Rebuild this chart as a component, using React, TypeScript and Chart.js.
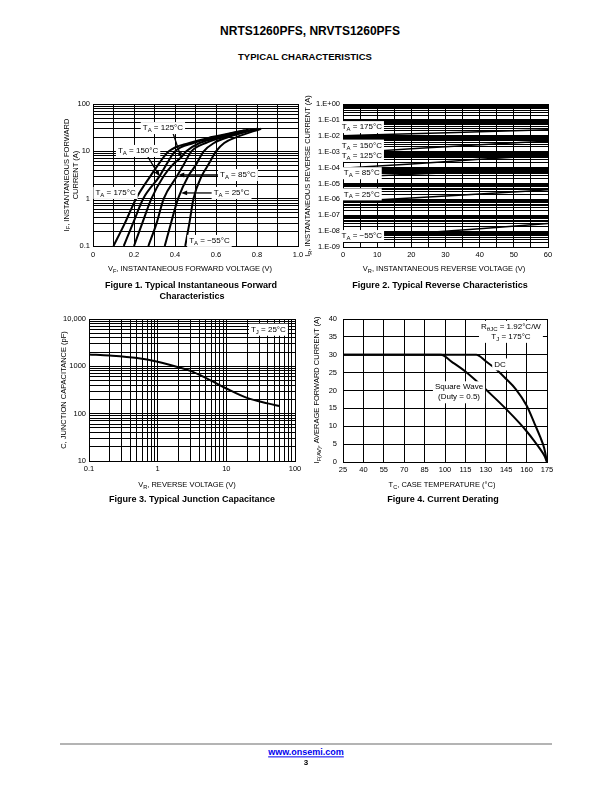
import React, { useEffect, useRef } from "react";
import { Chart, registerables } from "chart.js";

Chart.register(...registerables);

const FONT = '"Liberation Sans", Arial, Helvetica, sans-serif';

// ---------------- Figure 1 : forward characteristics ----------------
const fig1VoltTicks = [0, 0.1, 0.2, 0.3, 0.4, 0.5, 0.6, 0.7, 0.8, 0.9, 1.0];
const fig1VoltLabels = ["0", "", "0.2", "", "0.4", "", "0.6", "", "0.8", "", "1.0"];
const fig1CurrentDecades = [0.1, 1, 10, 100];
const fig1CurrentLabels = ["0.1", "1", "10", "100"];

const fig1V_175 = [0.10, 0.155, 0.21, 0.28, 0.315, 0.37, 0.47, 0.58, 0.74];
const fig1I_175 = [0.1, 0.3, 1, 3, 5, 10, 15, 20, 28];
const fig1V_150 = [0.15, 0.195, 0.245, 0.325, 0.355, 0.40, 0.49, 0.60, 0.76];
const fig1I_150 = [0.1, 0.3, 1, 3, 5, 10, 15, 20, 29];
const fig1V_125 = [0.20, 0.24, 0.285, 0.345, 0.385, 0.43, 0.455, 0.52, 0.62, 0.78];
const fig1I_125 = [0.1, 0.3, 1, 3, 5, 7.5, 10, 15, 20, 29];
const fig1V_85 = [0.27, 0.31, 0.345, 0.41, 0.44, 0.48, 0.55, 0.64, 0.79];
const fig1I_85 = [0.1, 0.3, 1, 3, 5, 10, 15, 20, 29];
const fig1V_25 = [0.35, 0.38, 0.415, 0.465, 0.50, 0.54, 0.59, 0.66, 0.80];
const fig1I_25 = [0.1, 0.3, 1, 3, 5, 10, 15, 20, 30];
const fig1V_m55 = [0.45, 0.47, 0.49, 0.53, 0.56, 0.60, 0.64, 0.70, 0.82];
const fig1I_m55 = [0.1, 0.3, 1, 3, 5, 10, 15, 20, 30];

// ---------------- Figure 2 : reverse characteristics ----------------
const fig2VoltTicks = [0, 5, 10, 15, 20, 25, 30, 35, 40, 45, 50, 55, 60];
const fig2VoltLabels = ["0", "", "10", "", "20", "", "30", "", "40", "", "50", "", "60"];
const fig2CurrentDecades = [1e-9, 1e-8, 1e-7, 1e-6, 1e-5, 1e-4, 1e-3, 1e-2, 1e-1, 1];
const fig2CurrentLabels = ["1.E-09", "1.E-08", "1.E-07", "1.E-06", "1.E-05", "1.E-04", "1.E-03", "1.E-02", "1.E-01", "1.E+00"];
const fig2V = [0, 20, 40, 60];
const fig2I_175 = [1.0e-2, 1.35e-2, 1.8e-2, 2.4e-2];
const fig2I_150 = [8e-4, 1.5e-3, 2.7e-3, 4.6e-3];
const fig2I_125 = [9e-5, 1.7e-4, 3.3e-4, 6.2e-4];
const fig2I_85 = [2.5e-5, 3.8e-5, 5.5e-5, 8e-5];
const fig2I_25 = [7e-7, 1.2e-6, 2.2e-6, 4e-6];
const fig2I_m55 = [3.5e-9, 7e-9, 1.4e-8, 3e-8];

// ---------------- Figure 3 : junction capacitance ----------------
const fig3VoltDecades = [0.1, 1, 10, 100];
const fig3VoltLabels = ["0.1", "1", "10", "100"];
const fig3CapDecades = [10, 100, 1000, 10000];
const fig3CapLabels = ["10", "100", "1000", "10,000"];
const fig3V = [0.1, 0.2, 0.5, 1, 2, 3, 5, 10, 20, 40, 60];
const fig3C = [1780, 1690, 1500, 1250, 960, 800, 570, 340, 215, 165, 145];

// ---------------- Figure 4 : current derating ----------------
const fig4TempTicks = [25, 40, 55, 70, 85, 100, 115, 130, 145, 160, 175];
const fig4TempLabels = ["25", "40", "55", "70", "85", "100", "115", "130", "145", "160", "175"];
const fig4CurrTicks = [0, 5, 10, 15, 20, 25, 30, 35, 40];
const fig4CurrLabels = ["0", "5", "10", "15", "20", "25", "30", "35", "40"];
const fig4T_DC = [25, 123, 130, 138, 145, 152, 160, 166, 170, 173, 175];
const fig4I_DC = [30, 30, 28.2, 25.8, 23.2, 20.4, 15.8, 10.6, 7, 3.8, 0];
const fig4T_SQ = [25, 97, 105, 115, 125, 135, 145, 155, 160, 165, 170, 173, 175];
const fig4I_SQ = [30, 30, 28, 25.3, 22, 18.5, 14.8, 10.8, 8.6, 6.2, 3.6, 1.8, 0];

// ---------------- layout helpers ----------------
const AX_W = 40;
const AX_H = 20;
const PAD_T = 8;
const PAD_R = 12;

type Seg = { t: string; sub?: boolean };
type Note = { x: number; y: number; lines: Seg[][]; arrow?: [number, number, number, number] };

function logTicks(decades: number[], decadeLabels: string[]) {
  const ticks: number[] = [];
  const labels: string[] = [];
  for (let d = 0; d < decades.length; d++) {
    const base = decades[d];
    ticks.push(base);
    labels.push(decadeLabels[d]);
    if (d < decades.length - 1) {
      for (let m = 2; m <= 9; m++) {
        ticks.push(Number((base * m).toPrecision(6)));
        labels.push("");
      }
    }
  }
  return { ticks, labels };
}

function makeAxis(
  pos: "x" | "y",
  type: string,
  min: number,
  max: number,
  ticks: number[],
  labels: string[],
  padding: number
) {
  return {
    type,
    min,
    max,
    position: pos === "x" ? "bottom" : "left",
    afterBuildTicks: (s: any) => {
      s.ticks = ticks.map((v) => ({ value: v }));
    },
    afterFit: (s: any) => {
      if (pos === "x") s.height = AX_H;
      else s.width = AX_W;
      s.paddingLeft = 0;
      s.paddingRight = 0;
      s.paddingTop = 0;
      s.paddingBottom = 0;
    },
    ticks: {
      autoSkip: false,
      maxRotation: 0,
      minRotation: 0,
      padding,
      color: "#000",
      font: { family: FONT, size: 7.5 },
      callback: (_v: any, i: number) => labels[i] ?? "",
    },
    grid: { color: "#000", lineWidth: 1, drawTicks: false },
    border: { display: true, color: "#000", width: 1 },
  };
}

function segWidth(ctx: CanvasRenderingContext2D, segs: Seg[], size: number) {
  let w = 0;
  for (const s of segs) {
    ctx.font = `${s.sub ? size * 0.75 : size}px ${FONT}`;
    w += ctx.measureText(s.t).width;
  }
  return w;
}

function drawSegs(ctx: CanvasRenderingContext2D, segs: Seg[], x: number, y: number, size: number) {
  let cx = x;
  ctx.textAlign = "left";
  ctx.textBaseline = "middle";
  for (const s of segs) {
    ctx.font = `${s.sub ? size * 0.75 : size}px ${FONT}`;
    ctx.fillText(s.t, cx, s.sub ? y + size * 0.3 : y);
    cx += ctx.measureText(s.t).width;
  }
}

function notesPlugin(notes: Note[]) {
  return {
    id: "notes",
    afterDatasetsDraw(chart: any) {
      const ctx: CanvasRenderingContext2D = chart.ctx;
      const xs = chart.scales.x;
      const ys = chart.scales.y;
      const size = 8;
      const lh = 10;
      ctx.save();
      for (const n of notes) {
        if (n.arrow) {
          const [fx, fy, tx, ty] = n.arrow;
          const x1 = xs.getPixelForValue(fx);
          const y1 = ys.getPixelForValue(fy);
          const x2 = xs.getPixelForValue(tx);
          const y2 = ys.getPixelForValue(ty);
          const ang = Math.atan2(y2 - y1, x2 - x1);
          const L = 6;
          const W = 2.4;
          ctx.strokeStyle = "#000";
          ctx.lineWidth = 1.3;
          ctx.beginPath();
          ctx.moveTo(x1, y1);
          ctx.lineTo(x2 - Math.cos(ang) * L * 0.8, y2 - Math.sin(ang) * L * 0.8);
          ctx.stroke();
          ctx.fillStyle = "#000";
          ctx.beginPath();
          ctx.moveTo(x2, y2);
          ctx.lineTo(x2 - Math.cos(ang) * L - Math.sin(ang) * W, y2 - Math.sin(ang) * L + Math.cos(ang) * W);
          ctx.lineTo(x2 - Math.cos(ang) * L + Math.sin(ang) * W, y2 - Math.sin(ang) * L - Math.cos(ang) * W);
          ctx.closePath();
          ctx.fill();
        }
      }
      for (const n of notes) {
        const cx = xs.getPixelForValue(n.x);
        const cy = ys.getPixelForValue(n.y);
        const widths = n.lines.map((l) => segWidth(ctx, l, size));
        const w = Math.max(...widths);
        const h = n.lines.length * lh;
        ctx.fillStyle = "#fff";
        ctx.fillRect(cx - w / 2 - 2, cy - h / 2 - 1, w + 4, h + 2);
        ctx.fillStyle = "#000";
        n.lines.forEach((l, i) => drawSegs(ctx, l, cx - widths[i] / 2, cy - h / 2 + lh * (i + 0.5), size));
      }
      ctx.restore();
    },
  };
}

function series(xs: number[], ys: number[], width: number) {
  return {
    data: xs.map((x, i) => ({ x, y: ys[i] })),
    borderColor: "#000",
    borderWidth: width,
    pointRadius: 0,
    fill: false,
    cubicInterpolationMode: "monotone",
  };
}

function buildConfig(xAxis: any, yAxis: any, datasets: any[], notes: Note[]) {
  return {
    type: "line",
    data: { datasets },
    options: {
      responsive: false,
      animation: false,
      devicePixelRatio: 1,
      events: [],
      layout: { padding: { left: 0, top: PAD_T, right: PAD_R, bottom: 0 } },
      plugins: { legend: { display: false }, tooltip: { enabled: false } },
      elements: { point: { radius: 0 } },
      scales: { x: xAxis, y: yAxis },
    },
    plugins: [notesPlugin(notes)],
  };
}

const TA = (v: string): Seg[] => [{ t: "T" }, { t: "A", sub: true }, { t: ` = ${v}°C` }];

// ---------------- chart configs ----------------
function fig1Config() {
  const y = logTicks(fig1CurrentDecades, fig1CurrentLabels);
  const notes: Note[] = [
    { x: 0.11, y: 1.32, lines: [TA("175")] },
    { x: 0.22, y: 10.2, lines: [TA("150")], arrow: [0.268, 7.6, 0.325, 2.97] },
    { x: 0.341, y: 31, lines: [TA("125")], arrow: [0.39, 24.4, 0.431, 7.2] },
    { x: 0.707, y: 3.16, lines: [TA("85")], arrow: [0.62, 3.16, 0.416, 3.16] },
    { x: 0.676, y: 1.32, lines: [TA("25")], arrow: [0.585, 1.32, 0.43, 1.32] },
    { x: 0.568, y: 0.128, lines: [TA("−55")] },
  ];
  return buildConfig(
    makeAxis("x", "linear", 0, 1, fig1VoltTicks, fig1VoltLabels, 4),
    makeAxis("y", "logarithmic", 0.1, 100, y.ticks, y.labels, 3),
    [
      series(fig1V_175, fig1I_175, 2),
      series(fig1V_150, fig1I_150, 2),
      series(fig1V_125, fig1I_125, 2),
      series(fig1V_85, fig1I_85, 2),
      series(fig1V_25, fig1I_25, 2),
      series(fig1V_m55, fig1I_m55, 2),
    ],
    notes
  );
}

function fig2Config() {
  const y = logTicks(fig2CurrentDecades, fig2CurrentLabels);
  const notes: Note[] = [
    { x: 5.5, y: 0.0352, lines: [TA("175")] },
    { x: 5.5, y: 2.4e-3, lines: [TA("150")] },
    { x: 5.5, y: 5.4e-4, lines: [TA("125")] },
    { x: 5.5, y: 4.4e-5, lines: [TA("85")] },
    { x: 5.5, y: 2.05e-6, lines: [TA("25")] },
    { x: 5.5, y: 4.9e-9, lines: [TA("−55")] },
  ];
  return buildConfig(
    makeAxis("x", "linear", 0, 60, fig2VoltTicks, fig2VoltLabels, 3.5),
    makeAxis("y", "logarithmic", 1e-9, 1, y.ticks, y.labels, 3),
    [
      series(fig2V, fig2I_175, 1.5),
      series(fig2V, fig2I_150, 1.5),
      series(fig2V, fig2I_125, 1.5),
      series(fig2V, fig2I_85, 1.5),
      series(fig2V, fig2I_25, 1.5),
      series(fig2V, fig2I_m55, 1.5),
    ],
    notes
  );
}

function fig3Config() {
  const x = logTicks(fig3VoltDecades, fig3VoltLabels);
  const y = logTicks(fig3CapDecades, fig3CapLabels);
  const notes: Note[] = [{ x: 41, y: 5940, lines: [[{ t: "T" }, { t: "J", sub: true }, { t: " = 25°C" }]] }];
  return buildConfig(
    makeAxis("x", "logarithmic", 0.1, 100, x.ticks, x.labels, 3.5),
    makeAxis("y", "logarithmic", 10, 10000, y.ticks, y.labels, 3),
    [series(fig3V, fig3C, 2)],
    notes
  );
}

function fig4Config() {
  const notes: Note[] = [
    {
      x: 148.5,
      y: 36.4,
      lines: [
        [{ t: "R" }, { t: "θJC", sub: true }, { t: " = 1.92°C/W" }],
        [{ t: "T" }, { t: "J", sub: true }, { t: " = 175°C" }],
      ],
    },
    { x: 140.4, y: 27.3, lines: [[{ t: "DC" }]] },
    { x: 110.3, y: 19.5, lines: [[{ t: "Square Wave" }], [{ t: "(Duty = 0.5)" }]] },
  ];
  return buildConfig(
    makeAxis("x", "linear", 25, 175, fig4TempTicks, fig4TempLabels, 3),
    makeAxis("y", "linear", 0, 40, fig4CurrTicks, fig4CurrLabels, 6),
    [series(fig4T_DC, fig4I_DC, 2), series(fig4T_SQ, fig4I_SQ, 2)],
    notes
  );
}

// ---------------- components ----------------
type Plot = { l: number; t: number; r: number; b: number };

function ChartBox({ plot, make }: { plot: Plot; make: () => any }) {
  const ref = useRef<HTMLCanvasElement>(null);
  const left = plot.l - AX_W;
  const top = plot.t - PAD_T;
  const width = plot.r - plot.l + AX_W + PAD_R;
  const height = plot.b - plot.t + PAD_T + AX_H;
  useEffect(() => {
    const chart = new Chart(ref.current as HTMLCanvasElement, make());
    return () => chart.destroy();
  }, []);
  return (
    <canvas
      ref={ref}
      width={width}
      height={height}
      style={{ position: "absolute", left, top, width, height }}
    />
  );
}

function Txt({
  x,
  y,
  size,
  bold,
  rotate,
  color,
  underline,
  children,
}: {
  x: number;
  y: number;
  size: number;
  bold?: boolean;
  rotate?: boolean;
  color?: string;
  underline?: boolean;
  children: any;
}) {
  return (
    <div
      style={{
        position: "absolute",
        left: x,
        top: y,
        transform: `translate(-50%, -50%)${rotate ? " rotate(-90deg)" : ""}`,
        whiteSpace: "nowrap",
        fontFamily: FONT,
        fontSize: size,
        fontWeight: bold ? "bold" : "normal",
        lineHeight: 1.25,
        textAlign: "center",
        color: color || "#000",
        textDecoration: underline ? "underline" : "none",
      }}
    >
      {children}
    </div>
  );
}

const Sub = ({ children }: { children: any }) => (
  <sub style={{ fontSize: "0.75em", verticalAlign: "-0.3em", lineHeight: 0 }}>{children}</sub>
);

const P1: Plot = { l: 93, t: 104, r: 298, b: 246 };
const P2: Plot = { l: 343, t: 104, r: 548, b: 247 };
const P3: Plot = { l: 89, t: 319, r: 295, b: 461 };
const P4: Plot = { l: 343, t: 319, r: 547, b: 462 };

export default function App() {
  const AX = 7.5;
  return (
    <div
      style={{
        position: "absolute",
        left: 0,
        top: 0,
        width: 612,
        height: 792,
        background: "#fff",
        overflow: "hidden",
      }}
    >
      <Txt x={310} y={30.5} size={12} bold>
        NRTS1260PFS, NRVTS1260PFS
      </Txt>
      <Txt x={305} y={57} size={9.5} bold>
        TYPICAL CHARACTERISTICS
      </Txt>

      <ChartBox plot={P1} make={fig1Config} />
      <ChartBox plot={P2} make={fig2Config} />
      <ChartBox plot={P3} make={fig3Config} />
      <ChartBox plot={P4} make={fig4Config} />

      {/* Figure 1 texts */}
      <Txt x={71} y={175} size={AX} rotate>
        <div>
          I<Sub>F</Sub>, INSTANTANEOUS FORWARD
        </div>
        <div>CURRENT (A)</div>
      </Txt>
      <Txt x={190} y={269} size={AX}>
        V<Sub>F</Sub>, INSTANTANEOUS FORWARD VOLTAGE (V)
      </Txt>
      <Txt x={191} y={285.5} size={9} bold>
        Figure 1. Typical Instantaneous Forward
      </Txt>
      <Txt x={192} y={296.5} size={9} bold>
        Characteristics
      </Txt>

      {/* Figure 2 texts */}
      <Txt x={307.5} y={176} size={AX} rotate>
        I<Sub>R</Sub>, INSTANTANEOUS REVERSE CURRENT (A)
      </Txt>
      <Txt x={444} y={269} size={AX}>
        V<Sub>R</Sub>, INSTANTANEOUS REVERSE VOLTAGE (V)
      </Txt>
      <Txt x={440} y={285.5} size={9} bold>
        Figure 2. Typical Reverse Characteristics
      </Txt>

      {/* Figure 3 texts */}
      <Txt x={64} y={390} size={AX} rotate>
        C, JUNCTION CAPACITANCE (pF)
      </Txt>
      <Txt x={187} y={485} size={AX}>
        V<Sub>R</Sub>, REVERSE VOLTAGE (V)
      </Txt>
      <Txt x={192} y={499.5} size={9} bold>
        Figure 3. Typical Junction Capacitance
      </Txt>

      {/* Figure 4 texts */}
      <Txt x={317} y={390} size={AX} rotate>
        I<Sub>F(AV)</Sub>, AVERAGE FORWARD CURRENT (A)
      </Txt>
      <Txt x={442} y={485} size={AX}>
        T<Sub>C</Sub>, CASE TEMPERATURE (°C)
      </Txt>
      <Txt x={443} y={499.5} size={9} bold>
        Figure 4. Current Derating
      </Txt>

      {/* Footer */}
      <div
        style={{
          position: "absolute",
          left: 60,
          top: 743,
          width: 492,
          height: 2,
          background: "#b4b4b4",
        }}
      />
      <Txt x={306} y={752.5} size={9} bold color="#0000ee" underline>
        www.onsemi.com
      </Txt>
      <Txt x={306} y={762.5} size={8} bold>
        3
      </Txt>
    </div>
  );
}
